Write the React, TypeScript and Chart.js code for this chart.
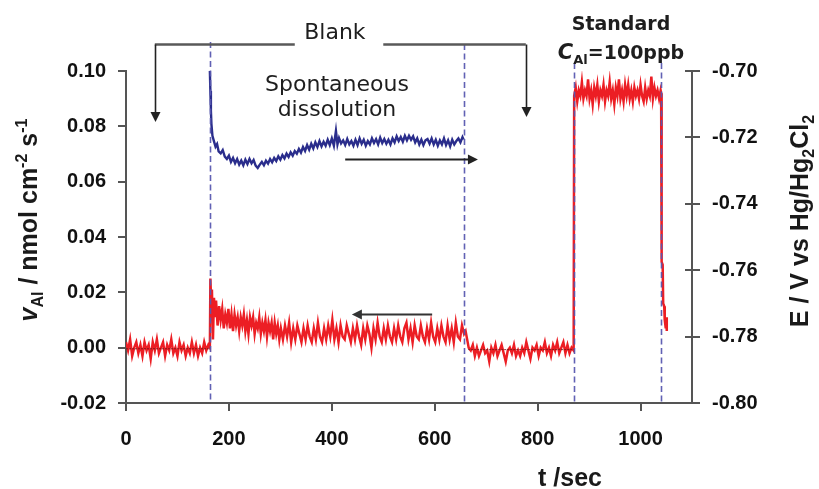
import { useEffect, useRef } from "react";
import { Chart, registerables } from "chart.js";

Chart.register(...registerables);

const WIDTH = 819;
const HEIGHT = 489;

// Axis tick values
const timeTicks = [0, 200, 400, 600, 800, 1000];
const rateTicks = [-0.02, 0, 0.02, 0.04, 0.06, 0.08, 0.1];
const potentialTicks = [-0.8, -0.78, -0.76, -0.74, -0.72, -0.7];

// Dissolution rate v_Al (nmol cm^-2 s^-1) vs time (s), segment by segment
const rateBlank: [number, number][] = [
  [0, 0.002], [4, -0.001], [8, 0.003], [12, -0.003], [16, 0.0], [20, 0.002], [24, -0.002],
  [28, 0.001], [32, -0.003], [36, 0.002], [40, -0.001], [44, 0.001], [48, -0.004], [52, 0.002],
  [56, -0.001], [60, 0.003], [64, -0.002], [68, 0.0], [72, 0.002], [76, -0.003], [80, 0.001],
  [84, -0.001], [88, 0.003], [92, -0.002], [96, 0.0], [100, -0.003], [104, 0.002], [108, -0.001],
  [112, 0.001], [116, -0.003], [120, 0.0], [124, -0.002], [128, 0.002], [132, -0.002],
  [136, 0.001], [140, -0.003], [144, 0.0], [148, -0.002], [152, 0.002], [156, -0.001],
  [160, 0.001], [163, 0.0],
];

const rateDissolution: [number, number][] = [
  [164, 0.025], [166, 0.014], [167, 0.021], [169, 0.003], [171, 0.018], [173, 0.011], [175, 0.017],
  [178, 0.008], [181, 0.015], [184, 0.01], [187, 0.014], [190, 0.007], [193, 0.012], [196, 0.009],
  [199, 0.014], [202, 0.007], [205, 0.012], [208, 0.006], [211, 0.012], [214, 0.008], [217, 0.011],
  [220, 0.006], [223, 0.011], [226, 0.008], [229, 0.012], [232, 0.006], [235, 0.01], [238, 0.005],
  [241, 0.011], [244, 0.008], [247, 0.011], [250, 0.005], [253, 0.009], [256, 0.007], [259, 0.011],
  [262, 0.005], [265, 0.009], [268, 0.006], [271, 0.01], [274, 0.004], [277, 0.009], [280, 0.006],
  [283, 0.009], [286, 0.003], [289, 0.009], [292, 0.005], [295, 0.008], [298, 0.003], [301, 0.007],
  [305, 0.003], [309, 0.008], [313, 0.004], [317, 0.009], [321, 0.002], [325, 0.007], [329, 0.003],
  [333, 0.008], [337, 0.005], [341, 0.002], [345, 0.007], [349, 0.003], [353, 0.008], [357, 0.004],
  [361, 0.002], [365, 0.007], [369, 0.003], [373, 0.009], [377, 0.004], [381, 0.002], [385, 0.007],
  [389, 0.003], [393, 0.008], [397, 0.004], [401, 0.01], [405, 0.003], [409, 0.007], [413, 0.002],
  [417, 0.008], [421, 0.004], [425, 0.003], [429, 0.008], [433, 0.005], [437, 0.002], [441, 0.007],
  [445, 0.003], [449, 0.008], [453, 0.004], [457, 0.001], [461, 0.007], [465, 0.003], [469, 0.008],
  [473, 0.005], [477, 0.0], [481, 0.007], [485, 0.003], [489, 0.009], [493, 0.004], [497, 0.002],
  [501, 0.007], [505, 0.003], [509, 0.008], [513, 0.004], [517, 0.002], [521, 0.007], [525, 0.003],
  [529, 0.008], [533, 0.004], [537, 0.002], [541, 0.007], [545, 0.009], [549, 0.003], [553, 0.007],
  [557, 0.002], [561, 0.008], [565, 0.004], [569, 0.003], [573, 0.008], [577, 0.004], [581, 0.002],
  [585, 0.007], [589, 0.003], [593, 0.009], [597, 0.004], [601, 0.002], [605, 0.007], [609, 0.003],
  [613, 0.008], [617, 0.004], [621, 0.002], [625, 0.008], [629, 0.003], [633, 0.007], [637, 0.002],
  [641, 0.009], [645, 0.004], [649, 0.003], [653, 0.008], [657, 0.005], [660, 0.006],
];

const rateBlankAfter: [number, number][] = [
  [663, 0.003], [666, 0.0], [670, -0.001], [674, 0.001], [678, -0.003], [682, 0.0], [686, -0.003],
  [690, -0.001], [694, 0.001], [698, -0.002], [702, -0.001], [706, -0.005], [710, 0.0], [714, -0.002],
  [718, 0.001], [722, -0.003], [726, -0.001], [730, 0.001], [734, -0.002], [738, -0.005], [742, -0.001],
  [746, 0.0], [750, -0.002], [754, 0.001], [758, -0.003], [762, -0.001], [766, -0.003], [770, 0.0],
  [774, -0.002], [778, 0.002], [782, -0.001], [786, -0.004], [790, 0.0], [794, -0.001], [798, 0.001],
  [802, -0.003], [806, 0.0], [810, -0.001], [814, 0.002], [818, -0.002], [822, 0.0], [826, -0.003],
  [830, 0.001], [834, -0.001], [838, 0.002], [842, -0.002], [846, 0.0], [850, 0.002], [854, -0.002],
  [858, 0.001], [862, -0.002], [866, 0.0], [870, -0.001],
];

const rateStandard: [number, number][] = [
  [871, 0.091], [874, 0.094], [877, 0.089], [880, 0.093], [883, 0.091], [886, 0.096], [889, 0.09],
  [892, 0.093], [895, 0.091], [898, 0.097], [901, 0.09], [904, 0.093], [907, 0.088], [910, 0.094],
  [913, 0.091], [916, 0.095], [919, 0.089], [922, 0.093], [925, 0.091], [928, 0.095], [931, 0.089],
  [934, 0.093], [937, 0.091], [940, 0.096], [943, 0.09], [946, 0.093], [949, 0.088], [952, 0.094],
  [955, 0.091], [958, 0.097], [961, 0.09], [964, 0.093], [967, 0.089], [970, 0.095], [973, 0.091],
  [976, 0.095], [979, 0.09], [982, 0.093], [985, 0.089], [988, 0.094], [991, 0.091], [994, 0.093],
  [997, 0.09], [1000, 0.095], [1003, 0.091], [1006, 0.089], [1009, 0.094], [1012, 0.09],
  [1015, 0.093], [1018, 0.091], [1021, 0.098], [1024, 0.09], [1027, 0.094], [1030, 0.091],
  [1033, 0.093], [1036, 0.09], [1039, 0.093], [1040, 0.092],
];

const rateReturn: [number, number][] = [
  [1041, 0.031], [1043, 0.03], [1044, 0.016], [1046, 0.015], [1047, 0.01], [1049, 0.007],
  [1050, 0.011], [1051, 0.006],
];

// Fitted zero-rate baselines during the blank periods
const baselineBefore: [number, number][] = [[0, -0.0004], [163, -0.0004]];
const baselineAfter: [number, number][] = [[665, -0.0007], [870, -0.0007]];

// Open-circuit potential E (V vs Hg/Hg2Cl2) during spontaneous dissolution
const potential: [number, number][] = [
  [163, -0.7], [164, -0.706], [165, -0.712], [166, -0.716], [168, -0.7195], [171, -0.7212],
  [174, -0.7228], [177, -0.722], [180, -0.7242], [184, -0.7248], [188, -0.7238], [192, -0.7258],
  [196, -0.7265], [200, -0.7255], [204, -0.7274], [208, -0.7262], [212, -0.7278], [216, -0.7265],
  [220, -0.7282], [224, -0.727], [228, -0.7284], [232, -0.7267], [236, -0.728], [240, -0.7265],
  [244, -0.7278], [248, -0.7268], [252, -0.7285], [256, -0.7292], [260, -0.7282], [264, -0.7274],
  [268, -0.7284], [272, -0.727], [276, -0.7279], [280, -0.7265], [284, -0.7275], [288, -0.7262],
  [292, -0.7271], [296, -0.7257], [300, -0.7267], [304, -0.7253], [308, -0.7263], [312, -0.7249],
  [316, -0.7259], [320, -0.7245], [324, -0.7255], [328, -0.7241], [332, -0.7249], [336, -0.7235],
  [340, -0.7246], [344, -0.7229], [348, -0.7241], [352, -0.7223], [356, -0.7237], [360, -0.7219],
  [364, -0.7233], [368, -0.7215], [372, -0.7229], [376, -0.7211], [380, -0.7227], [384, -0.7213],
  [388, -0.7225], [392, -0.7207], [396, -0.7223], [400, -0.7203], [404, -0.7225], [408, -0.718],
  [411, -0.7221], [414, -0.7202], [418, -0.7218], [422, -0.7209], [426, -0.7223], [430, -0.7205],
  [434, -0.7221], [438, -0.7211], [442, -0.7225], [446, -0.7207], [450, -0.7223], [454, -0.7203],
  [458, -0.7219], [462, -0.7207], [466, -0.7225], [470, -0.7211], [474, -0.7221], [478, -0.7203],
  [482, -0.7217], [486, -0.7205], [490, -0.7221], [494, -0.7201], [498, -0.7217], [502, -0.7205],
  [506, -0.7219], [510, -0.7207], [514, -0.7221], [518, -0.7203], [522, -0.7215], [526, -0.7197],
  [530, -0.7211], [534, -0.7199], [538, -0.7213], [542, -0.7195], [546, -0.7209], [550, -0.7195],
  [554, -0.7207], [558, -0.7197], [562, -0.7215], [566, -0.7203], [570, -0.7221], [574, -0.7207],
  [578, -0.7223], [582, -0.7209], [586, -0.7205], [590, -0.7219], [594, -0.7203], [598, -0.7221],
  [602, -0.7207], [606, -0.7225], [610, -0.7209], [614, -0.7221], [618, -0.7203], [622, -0.7223],
  [626, -0.7209], [630, -0.7227], [634, -0.7207], [638, -0.7221], [642, -0.7211], [646, -0.7203],
  [650, -0.7215], [654, -0.7199], [656, -0.7206],
];

// Times at which the solution / electrode state was changed
const eventTimes = [163, 656, 870, 1040];

const RED = "rgb(236,30,36)";
const NAVY = "rgb(42,45,140)";
const AXIS = "#555555";
const EVENT = "rgba(88,88,176,0.95)";
const TICK_FONT = { family: "'Liberation Sans', Arial, sans-serif", size: 20, weight: "bold" as const };
const TITLE_FAMILY = "'Liberation Sans', Arial, sans-serif";
const NOTE_FAMILY = "'DejaVu Sans', sans-serif";

const toPoints = (rows: [number, number][]) => rows.map(([x, y]) => ({ x, y }));

type Part = { text: string; font: string; dy?: number };

function drawRich(
  ctx: CanvasRenderingContext2D,
  parts: Part[],
  cx: number,
  cy: number,
  rotation: number,
  baseline: number
) {
  ctx.save();
  ctx.translate(cx, cy);
  ctx.rotate(rotation);
  ctx.textBaseline = "alphabetic";
  ctx.textAlign = "left";
  const widths = parts.map((p) => {
    ctx.font = p.font;
    return ctx.measureText(p.text).width;
  });
  const total = widths.reduce((a, b) => a + b, 0);
  let x = -total / 2;
  parts.forEach((p, i) => {
    ctx.font = p.font;
    ctx.fillText(p.text, x, baseline + (p.dy ?? 0));
    x += widths[i];
  });
  ctx.restore();
}

function arrowHead(ctx: CanvasRenderingContext2D, x: number, y: number, dir: "up" | "down" | "left" | "right") {
  const len = 10;
  const half = 5;
  ctx.beginPath();
  if (dir === "down") {
    ctx.moveTo(x, y);
    ctx.lineTo(x - half, y - len);
    ctx.lineTo(x + half, y - len);
  } else if (dir === "up") {
    ctx.moveTo(x, y);
    ctx.lineTo(x - half, y + len);
    ctx.lineTo(x + half, y + len);
  } else if (dir === "right") {
    ctx.moveTo(x, y);
    ctx.lineTo(x - len, y - half);
    ctx.lineTo(x - len, y + half);
  } else {
    ctx.moveTo(x, y);
    ctx.lineTo(x + len, y - half);
    ctx.lineTo(x + len, y + half);
  }
  ctx.closePath();
  ctx.fill();
}

const overlayPlugin = {
  id: "overlay",
  afterDatasetsDraw(chart: Chart) {
    const ctx = chart.ctx;
    const xs = chart.scales.x;
    const yr = chart.scales.yRate;
    const yp = chart.scales.yPot;
    const area = chart.chartArea;
    const X = (t: number) => xs.getPixelForValue(t);
    const Y = (v: number) => yr.getPixelForValue(v);

    // event markers
    ctx.save();
    ctx.strokeStyle = EVENT;
    ctx.lineWidth = 1.6;
    ctx.setLineDash([6, 3.5]);
    const tops = [0.1105, 0.1098, 0.1029, 0.1029];
    eventTimes.forEach((t, i) => {
      const x = Math.round(X(t)) + 0.5;
      ctx.beginPath();
      ctx.moveTo(x, Y(tops[i]));
      ctx.lineTo(x, area.bottom);
      ctx.stroke();
    });
    ctx.restore();

    // inner halves of the right-axis tick marks
    ctx.save();
    ctx.strokeStyle = AXIS;
    ctx.lineWidth = 2;
    potentialTicks.forEach((v) => {
      const y = Math.round(yp.getPixelForValue(v));
      ctx.beginPath();
      ctx.moveTo(area.right - 7, y);
      ctx.lineTo(area.right, y);
      ctx.stroke();
    });
    ctx.restore();

    // "Blank" bracket with arrows
    ctx.save();
    const yb = Math.round(Y(0.1098)) + 0.5;
    ctx.strokeStyle = "#595959";
    ctx.lineWidth = 2.5;
    ctx.beginPath();
    ctx.moveTo(X(56), yb);
    ctx.lineTo(X(328), yb);
    ctx.moveTo(X(500), yb);
    ctx.lineTo(X(777), yb);
    ctx.stroke();
    ctx.strokeStyle = "#222";
    ctx.fillStyle = "#222";
    ctx.lineWidth = 1.6;
    [
      [56, 0.0816],
      [777, 0.0834],
    ].forEach(([t, v]) => {
      const x = Math.round(X(t)) + 0.5;
      ctx.beginPath();
      ctx.moveTo(x, yb);
      ctx.lineTo(x, Y(v) - 6);
      ctx.stroke();
      arrowHead(ctx, x, Y(v), "down");
    });

    // direction arrows for the two curves
    ctx.lineWidth = 2.2;
    const ya = Math.round(Y(0.0682)) + 0.5;
    ctx.beginPath();
    ctx.moveTo(X(426), ya);
    ctx.lineTo(X(684) - 6, ya);
    ctx.stroke();
    arrowHead(ctx, X(684), ya, "right");
    ctx.strokeStyle = "#333";
    ctx.fillStyle = "#333";
    const yl = Math.round(Y(0.0122)) + 0.5;
    ctx.beginPath();
    ctx.moveTo(X(595), yl);
    ctx.lineTo(X(439) + 6, yl);
    ctx.stroke();
    arrowHead(ctx, X(439), yl, "left");
    ctx.restore();

    // text notes
    ctx.save();
    ctx.fillStyle = "#1e1e1e";
    ctx.textAlign = "center";
    ctx.textBaseline = "middle";
    ctx.font = `22px ${NOTE_FAMILY}`;
    ctx.fillText("Blank", X(406), Y(0.1137));
    ctx.fillText("Spontaneous", X(410), Y(0.0949));
    ctx.fillText("dissolution", X(410), Y(0.0859));
    ctx.font = `bold 19px ${NOTE_FAMILY}`;
    ctx.fillText("Standard", X(962), Y(0.1166));
    drawRich(
      ctx,
      [
        { text: "C", font: `italic bold 21px ${NOTE_FAMILY}` },
        { text: "Al", font: `bold 13px ${NOTE_FAMILY}`, dy: 5 },
        { text: "=100ppb", font: `bold 19px ${NOTE_FAMILY}` },
      ],
      X(962),
      Y(0.1069),
      0,
      7
    );
    ctx.restore();
  },
  afterDraw(chart: Chart) {
    const ctx = chart.ctx;
    ctx.save();
    ctx.fillStyle = "#1a1a1a";
    const big = `bold 25px ${TITLE_FAMILY}`;
    const small = `bold 16px ${TITLE_FAMILY}`;
    drawRich(
      ctx,
      [
        { text: "v", font: `italic bold 25px ${TITLE_FAMILY}` },
        { text: "Al", font: small, dy: 6 },
        { text: " / nmol cm", font: big },
        { text: "-2", font: small, dy: -10 },
        { text: " s", font: big },
        { text: "-1", font: small, dy: -10 },
      ],
      28,
      220,
      -Math.PI / 2,
      9
    );
    drawRich(
      ctx,
      [
        { text: "E / V vs Hg/Hg", font: big },
        { text: "2", font: small, dy: 6 },
        { text: "Cl", font: big },
        { text: "2", font: small, dy: 6 },
      ],
      799,
      221,
      -Math.PI / 2,
      9
    );
    drawRich(ctx, [{ text: "t /sec", font: big }], 570, 477, 0, 9);
    ctx.restore();
  },
};

const axisGrid = {
  drawOnChartArea: false,
  drawTicks: true,
  tickLength: 8,
  color: AXIS,
  lineWidth: 2,
};
const axisBorder = { display: true, color: AXIS, width: 2 };

export default function App() {
  const canvasRef = useRef<HTMLCanvasElement | null>(null);

  useEffect(() => {
    const canvas = canvasRef.current;
    if (!canvas) return;
    const rateSeries = [
      ...rateBlank,
      ...rateDissolution,
      ...rateBlankAfter,
      ...rateStandard,
      ...rateReturn,
    ];
    const chart = new Chart(canvas, {
      type: "scatter",
      data: {
        datasets: [
          {
            label: "baseline before",
            data: toPoints(baselineBefore),
            yAxisID: "yRate",
            showLine: true,
            borderColor: "rgba(110,20,20,0.8)",
            borderWidth: 1,
            borderDash: [2, 1],
            pointRadius: 0,
          },
          {
            label: "baseline after",
            data: toPoints(baselineAfter),
            yAxisID: "yRate",
            showLine: true,
            borderColor: "rgba(110,20,20,0.8)",
            borderWidth: 1,
            borderDash: [2, 1],
            pointRadius: 0,
          },
          {
            label: "v_Al",
            data: toPoints(rateSeries),
            yAxisID: "yRate",
            showLine: true,
            borderColor: RED,
            borderWidth: 2.5,
            pointRadius: 0,
            tension: 0,
          },
          {
            label: "E",
            data: toPoints(potential),
            yAxisID: "yPot",
            showLine: true,
            borderColor: NAVY,
            borderWidth: 2.4,
            pointRadius: 0,
            tension: 0,
          },
        ],
      },
      options: {
        responsive: false,
        animation: false,
        devicePixelRatio: 1,
        layout: { padding: { top: 71, left: 0, right: 0, bottom: 0 } },
        plugins: {
          legend: { display: false },
          tooltip: { enabled: false },
        },
        scales: {
          x: {
            type: "linear",
            position: "bottom",
            min: 0,
            max: 1100,
            afterBuildTicks: (s: any) => {
              s.ticks = timeTicks.map((value) => ({ value }));
            },
            afterFit: (s: any) => {
              s.height = 86;
            },
            ticks: {
              font: TICK_FONT,
              color: "#111",
              padding: 16,
              maxRotation: 0,
              autoSkip: false,
              callback: (v: any) => String(v),
            },
            grid: axisGrid,
            border: axisBorder,
          },
          yRate: {
            type: "linear",
            position: "left",
            min: -0.02,
            max: 0.1,
            afterBuildTicks: (s: any) => {
              s.ticks = rateTicks.map((value) => ({ value }));
            },
            afterFit: (s: any) => {
              s.width = 126;
            },
            ticks: {
              font: TICK_FONT,
              color: "#111",
              padding: 12,
              callback: (v: any) => Number(v).toFixed(2),
            },
            grid: axisGrid,
            border: axisBorder,
          },
          yPot: {
            type: "linear",
            position: "right",
            min: -0.8,
            max: -0.7,
            afterBuildTicks: (s: any) => {
              s.ticks = potentialTicks.map((value) => ({ value }));
            },
            afterFit: (s: any) => {
              s.width = 127;
            },
            ticks: {
              font: TICK_FONT,
              color: "#111",
              padding: 12,
              callback: (v: any) => Number(v).toFixed(2),
            },
            grid: axisGrid,
            border: axisBorder,
          },
        },
      },
      plugins: [overlayPlugin],
    });
    return () => chart.destroy();
  }, []);

  return (
    <div
      style={{
        position: "fixed",
        left: 0,
        top: 0,
        width: WIDTH,
        height: HEIGHT,
        background: "#ffffff",
      }}
    >
      <canvas ref={canvasRef} width={WIDTH} height={HEIGHT} style={{ display: "block" }} />
    </div>
  );
}
